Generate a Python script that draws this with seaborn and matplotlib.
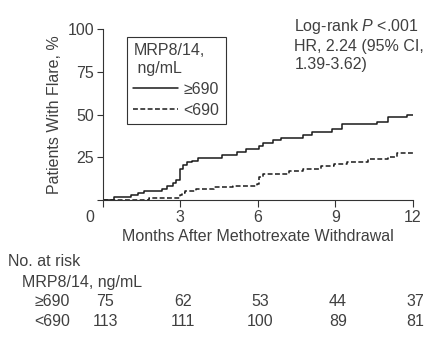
import pandas as pd
import matplotlib
matplotlib.use('Agg')
import matplotlib.pyplot as plt
import seaborn as sns

# Kaplan-Meier steps (months, % with flare)
hi_months = [0, 0.45, 1.1, 1.35, 1.6, 2.3, 2.5, 2.7, 2.85, 3.0, 3.1, 3.25, 3.45, 3.7,
             4.6, 5.2, 5.55, 6.05, 6.2, 6.6, 6.9, 7.75, 8.1, 8.85, 9.25, 10.6, 11.05,
             11.75, 12]
hi_flare = [0, 1.5, 2.9, 4.2, 5.4, 6.7, 8.2, 9.7, 11.7, 18, 20.5, 22, 23, 24.3,
            26.6, 28.3, 29.6, 31.5, 33.5, 35, 36.4, 38.2, 39.8, 41.4, 44.3, 45.8, 48.3,
            49.6, 49.6]
lo_months = [0, 1.8, 2.98, 3.05, 3.18, 3.6, 4.3, 5.05, 5.95, 6.05, 6.2, 7.2, 7.75, 8.45,
             8.95, 9.45, 10.25, 11.05, 11.4, 12]
lo_flare = [0, 0.9, 2.9, 3.9, 5.5, 6.5, 7.4, 8.2, 9.6, 13.3, 15.4, 17, 18, 19.7,
            21.2, 22.4, 23.8, 25, 27.6, 27.6]

risk_months = [0, 3, 6, 9, 12]
risk_hi = [75, 62, 53, 44, 37]
risk_lo = [113, 111, 100, 89, 81]
group_labels = ['\u2265690', '<690']

sns.set_style('ticks')
plt.rcParams['font.family'] = ['Liberation Sans', 'DejaVu Sans']
plt.rcParams['mathtext.fontset'] = 'custom'
plt.rcParams['mathtext.it'] = 'Liberation Sans:italic'
plt.rcParams['mathtext.rm'] = 'Liberation Sans'
txt = '#404040'
fs = 11.5

fig = plt.figure(figsize=(4.25, 3.39), dpi=100)
ax = fig.add_axes([0.2416, 0.41, 0.7302, 0.5044])

df_hi = pd.DataFrame({'months': hi_months, 'flare': hi_flare})
df_lo = pd.DataFrame({'months': lo_months, 'flare': lo_flare})
sns.lineplot(data=df_hi, x='months', y='flare', drawstyle='steps-post', color='#1a1a1a',
             lw=1.1, label=group_labels[0], ax=ax, estimator=None)
sns.lineplot(data=df_lo, x='months', y='flare', drawstyle='steps-post', color='#1a1a1a',
             lw=1.1, linestyle=(0, (3.2, 1.6)), label=group_labels[1], ax=ax, estimator=None)

ax.set_xlim(0, 12)
ax.set_ylim(0, 100)
ax.set_xticks([0, 3, 6, 9, 12])
ax.set_xticklabels(['', '3', '6', '9', '12'])
ax.set_yticks([0, 25, 50, 75, 100])
ax.set_yticklabels(['', '25', '50', '75', '100'])
ax.tick_params(axis='both', labelsize=fs, labelcolor=txt, color='#333333', width=0.8)
ax.tick_params(axis='y', length=4.5, pad=1.5)
ax.tick_params(axis='x', length=5, pad=2)
for s in ['left', 'bottom']:
    ax.spines[s].set_color('#333333')
    ax.spines[s].set_linewidth(0.8)
sns.despine(ax=ax)

ax.annotate('0', xy=(0, 0), xytext=(-9.5, -7.2), textcoords='offset points',
            ha='center', va='top', fontsize=fs, color=txt, annotation_clip=False)
ax.set_xlabel('Months After Methotrexate Withdrawal', fontsize=fs, color=txt, labelpad=3)
ax.set_ylabel('Patients With Flare, %', fontsize=fs, color=txt, labelpad=4)

leg = ax.legend(title='MRP8/14,\n ng/mL', loc='upper left', bbox_to_anchor=(0.0525, 1.0),
                frameon=True, fancybox=False, edgecolor='#333333', framealpha=1,
                fontsize=fs, title_fontsize=fs, handlelength=2.8, handletextpad=0.35,
                borderpad=0.4, labelspacing=0.38, alignment='left')
leg.get_frame().set_linewidth(0.8)
for t in leg.get_texts():
    t.set_color(txt)
leg.get_title().set_color(txt)

ax.text(0.618, 1.07, 'Log-rank $\\it{P}$ <.001\nHR, 2.24 (95% CI,\n1.39-3.62)',
        transform=ax.transAxes, ha='left', va='top', fontsize=fs, color=txt,
        linespacing=1.25)

# number at risk table
fig.text(8 / 425, 1 - 262 / 339, 'No. at risk', fontsize=fs, color=txt, va='center')
fig.text(22 / 425, 1 - 282 / 339, 'MRP8/14, ng/mL', fontsize=fs, color=txt, va='center')
trans = matplotlib.transforms.blended_transform_factory(ax.transData, fig.transFigure)
for row_y, lab, counts in [(302, group_labels[0], risk_hi), (322, group_labels[1], risk_lo)]:
    fig.text(70 / 425, 1 - row_y / 339, lab, fontsize=fs, color=txt, va='center', ha='right')
    for m, c in zip(risk_months, counts):
        ax.text(m + 0.1, 1 - row_y / 339, str(c), transform=trans, fontsize=fs, color=txt,
                va='center', ha='center')

fig.savefig('out.png', dpi=100)
